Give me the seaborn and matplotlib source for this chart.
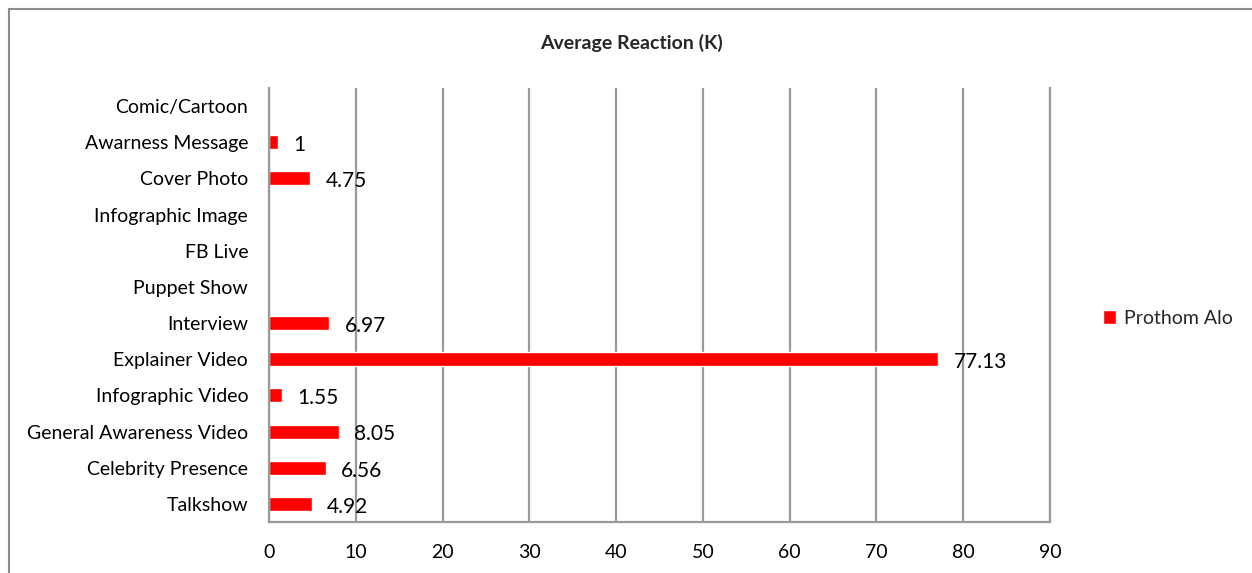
import numpy as np
import pandas as pd
import matplotlib
matplotlib.use("Agg")
import matplotlib.pyplot as plt
import seaborn as sns
from matplotlib.patches import Rectangle

categories = ["Comic/Cartoon", "Awarness Message", "Cover Photo", "Infographic Image",
              "FB Live", "Puppet Show", "Interview", "Explainer Video",
              "Infographic Video", "General Awareness Video", "Celebrity Presence", "Talkshow"]
reactions = [np.nan, 1, 4.75, np.nan, np.nan, np.nan, 6.97, 77.13, 1.55, 8.05, 6.56, 4.92]
x_ticks = [0, 10, 20, 30, 40, 50, 60, 70, 80, 90]
series_name = "Prothom Alo"
title = "Average Reaction (K)"

sns.set_theme(style="white")
plt.rcParams["font.family"] = ["Lato", "DejaVu Sans"]

df = pd.DataFrame({"category": categories, "value": reactions})

fig = plt.figure(figsize=(12.52, 5.73), dpi=100)
ax = fig.add_axes([269 / 1252, 1 - 522 / 573, (1050 - 269) / 1252, (522 - 88) / 573])

sns.barplot(data=df, x="value", y="category", order=categories, color="#ff0000",
            saturation=1, width=0.39, ax=ax, orient="h", label=series_name)

# value labels at the end of each bar
for i, v in enumerate(reactions):
    if np.isnan(v):
        continue
    ax.annotate(f"{v:g}", xy=(v, i), xytext=(11, -2), textcoords="offset points",
                ha="left", va="center", fontsize=15, color="black")

ax.set_xlim(0, 90)
ax.set_xticks(x_ticks)
ax.set_xlabel("")
ax.set_ylabel("")
ax.grid(axis="x", color="#9a9a9a", linewidth=1.6)
ax.set_axisbelow(True)
ax.spines["top"].set_visible(False)
for side in ["left", "bottom", "right"]:
    ax.spines[side].set_color("#9a9a9a")
    ax.spines[side].set_linewidth(1.6)
ax.tick_params(axis="x", length=0, pad=16, labelsize=14, colors="black")
ax.tick_params(axis="y", length=0, pad=15, labelsize=14, colors="black")

if ax.get_legend() is not None:
    ax.get_legend().remove()
handles, lbls = ax.get_legend_handles_labels()
fig.legend(handles, lbls, loc="center left", bbox_to_anchor=(1085 / 1252, 1 - 318 / 573),
           frameon=False, fontsize=14, handlelength=0.7, handleheight=0.7,
           handletextpad=0.4)

fig.text(631 / 1252, 1 - 43 / 573, title, ha="center", va="center",
         fontsize=14, fontweight="bold")

# outer chart frame
fig.patches.append(Rectangle((9 / 1252, -0.1), 1.2, 1 - 9 / 573 + 0.1,
                             transform=fig.transFigure, fill=False,
                             edgecolor="#8c8c8c", linewidth=1.5, clip_on=False))

fig.savefig("out.png", dpi=100)
